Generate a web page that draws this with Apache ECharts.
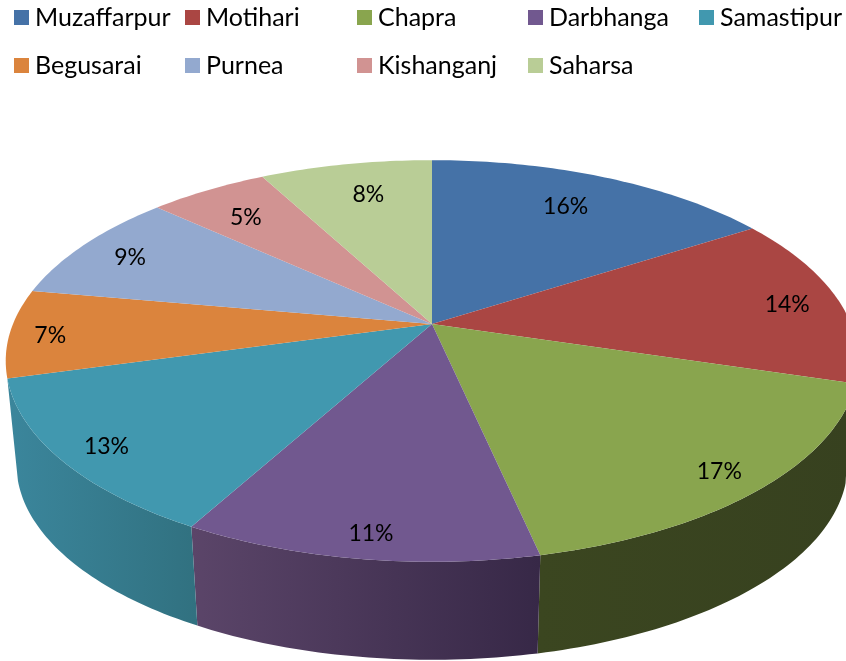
<!DOCTYPE html>
<html>
<head>
<meta charset="utf-8">
<title>Pie</title>
<style>
  html, body { margin: 0; padding: 0; background: #fff; }
  #chart { width: 846px; height: 661px; }
</style>
<script src="https://cdn.jsdelivr.net/npm/echarts@6/dist/echarts.min.js"></script>
</head>
<body>
<div id="chart"></div>
<script>
const categories = ['Muzaffarpur', 'Motihari', 'Chapra', 'Darbhanga', 'Samastipur', 'Begusarai', 'Purnea', 'Kishanganj', 'Saharsa'];
const values = [15.9, 13.8, 16.9, 11.4, 12.7, 7.1, 9.0, 5.4, 7.8];

const colors = ['#4572A7', '#AA4643', '#89A54E', '#71588F', '#4198AF', '#DB843D', '#93A9CF', '#D19392', '#B9CD96'];
// side wall shading, left to right
const wallColors = {
    1: ['#3A4520', '#3A4520'],
    2: ['#3B4620', '#37411F'],
    3: ['#5B4569', '#372847'],
    4: ['#3B869C', '#317180']
};
// how far out (0-1) each percent label sits, and a small turn in degrees
const labelRadius = [0.79, 0.875, 0.89, 0.9, 0.89, 0.905, 0.86, 0.8, 0.8];
const labelTurn = [-1.5, 0, 0, -0.5, 0, 0, 0, -0.5, 1.5];
const legendLeft = [14, 185, 357, 528, 699];
const legendTop = [5, 53];

const FONT = 'Lato';
const total = values.reduce((a, b) => a + b, 0);

// tilted disc: the far side is squeezed, the near side stretched
const TILT = { a: 419, b: 194, p: 0.184 };
const TOP = { x: 432, y: 324, s: 1 };
const BOTTOM = { x: 432, y: 428, s: 0.975 };
const WALL_FROM = 106, WALL_TO = 256;

function project(deg, r, f) {
    const t = deg * Math.PI / 180;
    const X = r * Math.sin(t), Y = r * Math.cos(t);
    const d = 1 + TILT.p * Y;
    return [f.x + f.s * TILT.a * X / d, f.y - f.s * TILT.b * Y / d];
}

function arc(from, to, f) {
    const pts = [];
    const n = Math.max(2, Math.ceil(Math.abs(to - from)));
    for (let k = 0; k <= n; k++) {
        pts.push(project(from + (to - from) * k / n, 1, f));
    }
    return pts;
}

function makeSlice(i) {
    return function (params, api) {
        const before = values.slice(0, i).reduce((a, b) => a + b, 0);
        const from = before / total * 360;
        const to = (before + api.value(0)) / total * 360;
        const mid = (from + to) / 2 + labelTurn[i];
        const children = [];

        const wFrom = Math.max(from, WALL_FROM), wTo = Math.min(to, WALL_TO);
        if (wTo > wFrom && wallColors[i]) {
            children.push({
                type: 'polygon',
                z2: 1,
                shape: { points: arc(wFrom, wTo, TOP).concat(arc(wTo, wFrom, BOTTOM)) },
                style: {
                    fill: new echarts.graphic.LinearGradient(0, 0, 1, 0, [
                        { offset: 0, color: wallColors[i][0] },
                        { offset: 1, color: wallColors[i][1] }
                    ])
                }
            });
        }

        children.push({
            type: 'polygon',
            z2: 5,
            shape: { points: [[TOP.x, TOP.y]].concat(arc(from, to, TOP)) },
            style: { fill: colors[i] }
        });

        const p = project(mid, labelRadius[i], TOP);
        children.push({
            type: 'text',
            z2: 10,
            style: {
                text: Math.round(api.value(0) / total * 100) + '%',
                x: p[0],
                y: p[1] + 3,
                fill: '#000',
                font: '23px ' + FONT,
                align: 'center',
                verticalAlign: 'middle'
            }
        });
        return { type: 'group', children: children };
    };
}

// one small legend per name so the columns can sit where they do in the picture
const legends = categories.map((name, i) => ({
    left: legendLeft[i % 5],
    top: legendTop[i < 5 ? 0 : 1],
    padding: 0,
    itemWidth: 15,
    itemHeight: 15,
    icon: 'rect',
    selectedMode: false,
    data: [name],
    textStyle: { fontFamily: FONT, fontSize: 25, color: '#000', padding: [0, 0, 0, 1] }
}));

const chart = echarts.init(document.getElementById('chart'));
chart.setOption({
    animation: false,
    tooltip: { show: false },
    legend: legends,
    series: categories.map((name, i) => ({
        type: 'custom',
        name: name,
        coordinateSystem: 'none',
        itemStyle: { color: colors[i] },
        data: [[values[i]]],
        renderItem: makeSlice(i)
    }))
});
</script>
</body>
</html>
